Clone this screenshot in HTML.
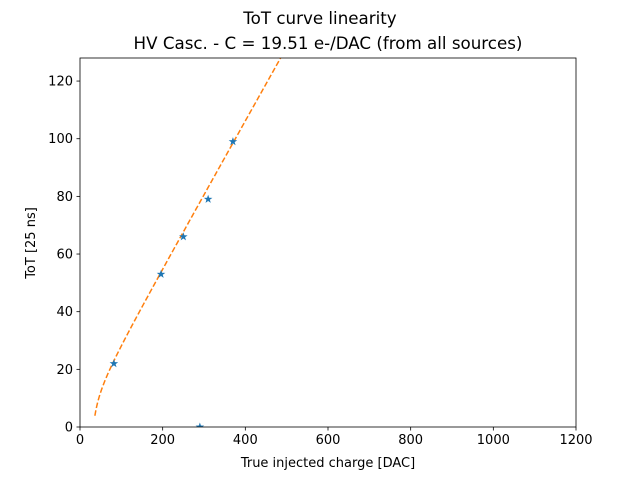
<!DOCTYPE html>
<html><head><meta charset="utf-8"><style>
html,body{margin:0;padding:0;background:#fff;}
svg text{font-family:"DejaVu Sans","Liberation Sans",sans-serif;}
</style></head><body>
<svg id="chart" width="640" height="480" xmlns="http://www.w3.org/2000/svg">
<rect width="640" height="480" fill="#fff"/>
<text x="320" y="24" text-anchor="middle" font-size="16.7">ToT curve linearity</text>
<text x="328" y="49" text-anchor="middle" font-size="16.7">HV Casc. - C = 19.51 e-/DAC (from all sources)</text>
<g id="plot"></g>
<text x="328" y="467" text-anchor="middle" font-size="13">True injected charge [DAC]</text>
<text transform="translate(35,243) rotate(-90)" text-anchor="middle" font-size="13">ToT [25 ns]</text>
</svg>
<script>
const xTicks=[0,200,400,600,800,1000,1200];
const yTicks=[0,20,40,60,80,100,120];
const pointsX=[82,196,250,310,370,290];
const pointsY=[22,53,66,79,99,0];
const fitParams=[0.255,4.6,158,20]; // a, b, c, t : a*x+b-c/(x-t)
const fitRange=[36,520];
const L=80,R=576,T=58,B=427,XMAX=1200,YMAX=128;
const sx=v=>L+(v/XMAX)*(R-L);
const sy=v=>B-(v/YMAX)*(B-T);
const NS="http://www.w3.org/2000/svg";
const g=document.getElementById('plot');
function mk(tag,attrs){const e=document.createElementNS(NS,tag);for(const k in attrs)e.setAttribute(k,attrs[k]);return e;}
const defs=mk('defs',{});const cp=mk('clipPath',{id:'clip'});cp.appendChild(mk('rect',{x:L,y:T,width:R-L,height:B-T}));defs.appendChild(cp);g.appendChild(defs);
let d='';
for(let x=fitRange[0];x<=fitRange[1];x+=2){const [a,b,c,t]=fitParams;const y=a*x+b-c/(x-t);d+=(d?'L':'M')+sx(x).toFixed(2)+','+sy(y).toFixed(2);}
const fit=mk('path',{d:d,fill:'none',stroke:'#ff7f0e','stroke-width':1.5,'stroke-dasharray':'5.5,2.4','clip-path':'url(#clip)'});


g.appendChild(fit);
function star(cx,cy,r){let p='';for(let i=0;i<10;i++){const ang=-Math.PI/2+i*Math.PI/5;const rr=i%2?r*0.4:r;p+=(i?'L':'M')+(cx+rr*Math.cos(ang)).toFixed(2)+','+(cy+rr*Math.sin(ang)).toFixed(2);}return p+'Z';}
pointsX.forEach((x,i)=>{const s=mk('path',{d:star(sx(x),sy(pointsY[i]),4.5),fill:'#1f77b4','clip-path':'url(#clip)'});


g.appendChild(s);});
const fr=mk('rect',{x:L,y:T,width:R-L,height:B-T,fill:'none',stroke:'#000','stroke-width':0.8});


g.appendChild(fr);
xTicks.forEach(v=>{const x=sx(v);g.appendChild(mk('line',{x1:x,x2:x,y1:B,y2:B+3.5,stroke:'#000','stroke-width':0.8}));
const t=mk('text',{x:x,y:B+17,'text-anchor':'middle','font-size':13});t.textContent=v;


g.appendChild(t);});
yTicks.forEach(v=>{const y=sy(v);g.appendChild(mk('line',{x1:L-3.5,x2:L,y1:y,y2:y,stroke:'#000','stroke-width':0.8}));
const t=mk('text',{x:L-7,y:y+4.5,'text-anchor':'end','font-size':13});t.textContent=v;


g.appendChild(t);});
</script>
</body></html>
